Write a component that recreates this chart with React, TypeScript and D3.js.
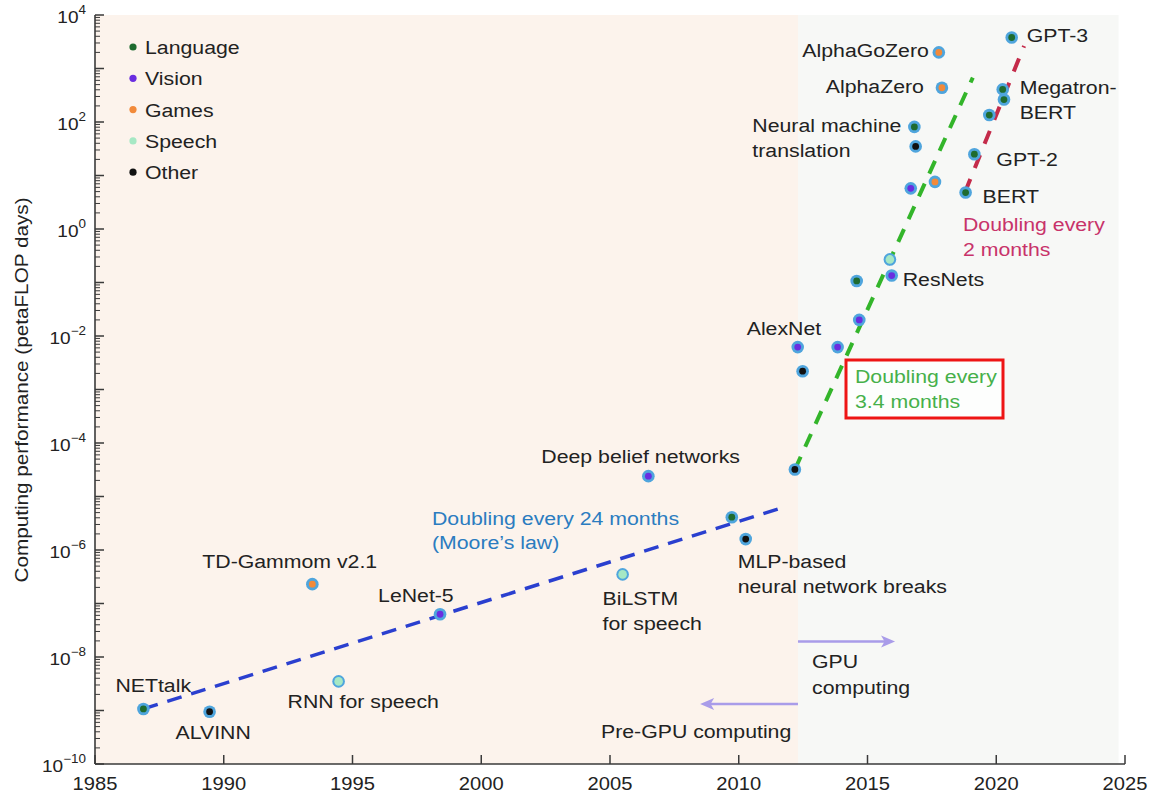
import React from "react";
import * as d3 from "d3";

// ---------- data ----------
const categories = ["Language", "Vision", "Games", "Speech", "Other"];
const categoryColors = ["#1e6b2f", "#6a2de0", "#f28a3a", "#a6e8c4", "#111111"];

const pointYears = [
  1986.88, 1989.45, 1993.44, 1994.46, 1998.4, 2005.49, 2006.49, 2009.73, 2010.27,
  2012.18, 2012.29, 2012.48, 2013.84, 2014.68, 2014.58, 2015.87, 2015.94, 2016.68,
  2017.62, 2016.82, 2016.87, 2017.77, 2017.89, 2018.81, 2019.15, 2019.73, 2020.25,
  2020.3, 2020.6,
];
const pointValues = [
  1.07e-9, 9.5e-10, 2.3e-7, 3.5e-9, 6.3e-8, 3.5e-7, 2.4e-5, 4.1e-6, 1.6e-6,
  3.2e-5, 6.2e-3, 2.2e-3, 6.2e-3, 0.02, 0.107, 0.27, 0.135, 5.75,
  7.6, 81, 35, 2000, 437, 4.8, 25, 135, 407,
  263, 3800,
];
const pointCategories = [
  "Language", "Other", "Games", "Speech", "Vision", "Speech", "Vision", "Language", "Other",
  "Other", "Vision", "Other", "Vision", "Vision", "Language", "Speech", "Vision", "Vision",
  "Games", "Language", "Other", "Games", "Games", "Language", "Language", "Language", "Language",
  "Language", "Language",
];

// labels: index of point, text lines
const labelPointIndex = [0, 1, 3, 2, 4, 6, 5, 8, 10, 16, 19, 21, 22, 28, 26, 24, 23];
const labelTexts = [
  ["NETtalk"], ["ALVINN"], ["RNN for speech"], ["TD-Gammom v2.1"], ["LeNet-5"],
  ["Deep belief networks"], ["BiLSTM", "for speech"], ["MLP-based", "neural network breaks"],
  ["AlexNet"], ["ResNets"], ["Neural machine", "translation"], ["AlphaGoZero"], ["AlphaZero"],
  ["GPT-3"], ["Megatron-", "BERT"], ["GPT-2"], ["BERT"],
];

// trend lines [year, value]
const mooreLine = [[1986.88, 1.07e-9], [2011.56, 5.9e-6]];
const gpuLine = [[2012.18, 3.2e-5], [2019.09, 676]];
const recentLine = [[2018.79, 4.9], [2021.08, 2630]];

const xTickYears = [1985, 1990, 1995, 2000, 2005, 2010, 2015, 2020, 2025];
const yTickExponents = [4, 2, 0, -2, -4, -6, -8, -10];
const gpuStartYear = 2012.3;
const plotBgEndYear = 2024.75;
const gpuArrowEndYear = 2016.07;
const preGpuArrowEndYear = 2008.5;

// ---------- layout ----------
const W = 1151;
const H = 799;
const FONT = "'Liberation Sans', Arial, Helvetica, sans-serif";
const SX = 1.12;

const x = d3.scaleLinear().domain([1985, 2025]).range([95, 1125]);
const y = d3.scaleLog().domain([1e-10, 1e4]).range([764, 15]);
const color = d3.scaleOrdinal<string, string>().domain(categories).range(categoryColors);

// label offsets (layout, px) relative to point
const labelLayout: { dx: number; dy: number; anchor?: string }[] = [
  { dx: -28, dy: -17 },
  { dx: -34, dy: 27 },
  { dx: -51, dy: 27 },
  { dx: -110, dy: -16 },
  { dx: -62, dy: -12 },
  { dx: -107, dy: -13 },
  { dx: -20, dy: 31 },
  { dx: -8, dy: 29 },
  { dx: -51, dy: -12 },
  { dx: 11, dy: 10 },
  { dx: -162, dy: 5 },
  { dx: -10, dy: 5, anchor: "end" },
  { dx: -18, dy: 5, anchor: "end" },
  { dx: 15, dy: 5 },
  { dx: 17, dy: 5 },
  { dx: 22, dy: 12 },
  { dx: 17, dy: 10 },
];

function T({
  x: tx, y: ty, children, size = 19, fill = "#222", anchor = "start", rotate = 0,
}: any) {
  return (
    <text
      transform={`translate(${tx},${ty}) rotate(${rotate}) scale(${SX},1)`}
      fontSize={size}
      fill={fill}
      textAnchor={anchor}
      fontFamily={FONT}
    >
      {children}
    </text>
  );
}

function Arrow({ x1, x2, yy, col }: any) {
  const dir = Math.sign(x2 - x1);
  const hl = 14;
  const hw = 6;
  return (
    <g>
      <line x1={x1} x2={x2 - dir * hl * 0.6} y1={yy} y2={yy} stroke={col} strokeWidth={2.5} />
      <polygon
        points={`${x2},${yy} ${x2 - dir * hl},${yy - hw} ${x2 - dir * hl * 0.75},${yy} ${x2 - dir * hl},${yy + hw}`}
        fill={col}
      />
    </g>
  );
}

export default function App() {
  const line = d3
    .line<number[]>()
    .x((d) => x(d[0]))
    .y((d) => y(d[1]));

  const y0 = y(1e-10);
  const yTop = y(1e4);

  const minorTicks: number[] = [];
  for (let e = -10; e < 4; e++) {
    for (let k = 2; k <= 9; k++) minorTicks.push(k * Math.pow(10, e));
  }
  const majorTicks: number[] = [];
  for (let e = -10; e <= 4; e++) majorTicks.push(Math.pow(10, e));

  const axisCol = "#3a3a3a";

  return (
    <svg
      width={W}
      height={H}
      style={{ position: "absolute", left: 0, top: 0, background: "#fff" }}
      fontFamily={FONT}
    >
      {/* backgrounds */}
      <rect x={x(1985)} y={yTop} width={x(gpuStartYear) - x(1985)} height={y0 - yTop} fill="#fcf3ec" />
      <rect x={x(gpuStartYear)} y={yTop} width={x(plotBgEndYear) - x(gpuStartYear)} height={y0 - yTop} fill="#f7f8f6" />

      {/* trend lines */}
      <path d={line(mooreLine as any) || ""} stroke="#2a3fcf" strokeWidth={3.5} strokeDasharray="15 10" fill="none" />
      <path d={line(gpuLine as any) || ""} stroke="#33b52a" strokeWidth={4} strokeDasharray="14 11" fill="none" />
      <path d={line(recentLine as any) || ""} stroke="#c42b4a" strokeWidth={4} strokeDasharray="14 12" fill="none" />

      {/* points */}
      {pointYears.map((yr, i) => {
        const cat = pointCategories[i];
        return (
          <g key={i}>
            <circle cx={x(yr)} cy={y(pointValues[i])} r={6.3} fill="#4fa5dd" />
            <circle cx={x(yr)} cy={y(pointValues[i])} r={cat === "Speech" ? 4.3 : 3.4} fill={color(cat)} />
          </g>
        );
      })}

      {/* point labels */}
      {labelPointIndex.map((pi, j) => {
        const L = labelLayout[j];
        const px = x(pointYears[pi]);
        const py = y(pointValues[pi]);
        return (
          <g key={"l" + j}>
            {labelTexts[j].map((t, k) => (
              <T key={k} x={px + L.dx} y={py + L.dy + k * 25} anchor={L.anchor || "start"}>
                {t}
              </T>
            ))}
          </g>
        );
      })}

      {/* annotations */}
      <T x={432} y={525} fill="#2b7cc0">Doubling every 24 months</T>
      <T x={432} y={549} fill="#2b7cc0">(Moore’s law)</T>

      <rect x={846} y={360} width={157} height={58} fill="#fdfefd" stroke="#ee1515" strokeWidth={3} />
      <T x={855} y={383} fill="#46b04a">Doubling every</T>
      <T x={855} y={408} fill="#46b04a">3.4 months</T>

      <T x={963} y={231} fill="#c8336a">Doubling every</T>
      <T x={963} y={256} fill="#c8336a">2 months</T>

      <Arrow x1={x(gpuStartYear)} x2={x(gpuArrowEndYear)} yy={y(1.94e-8)} col="#a99ce9" />
      <Arrow x1={x(gpuStartYear)} x2={x(preGpuArrowEndYear)} yy={y(1.32e-9)} col="#a99ce9" />
      <T x={812} y={668}>GPU</T>
      <T x={812} y={694}>computing</T>
      <T x={601} y={738}>Pre-GPU computing</T>

      {/* legend */}
      {categories.map((c, i) => (
        <g key={c}>
          <circle cx={133} cy={47 + i * 31.3} r={3.6} fill={color(c)} />
          <T x={145} y={54 + i * 31.3}>{c}</T>
        </g>
      ))}

      {/* axes */}
      <line x1={x(1985)} x2={x(1985)} y1={yTop} y2={y0} stroke={axisCol} strokeWidth={1.6} />
      <line x1={x(1985)} x2={x(2025)} y1={y0} y2={y0} stroke={axisCol} strokeWidth={1.6} />
      {minorTicks.map((v, i) => (
        <line key={"mn" + i} x1={x(1985)} x2={x(1985) + 5} y1={y(v)} y2={y(v)} stroke={axisCol} strokeWidth={1} />
      ))}
      {majorTicks.map((v, i) => (
        <line key={"mj" + i} x1={x(1985)} x2={x(1985) + 9} y1={y(v)} y2={y(v)} stroke={axisCol} strokeWidth={1.5} />
      ))}
      {xTickYears.map((yr) => (
        <g key={"xt" + yr}>
          <line x1={x(yr)} x2={x(yr)} y1={y0} y2={y0 - 9} stroke={axisCol} strokeWidth={1.5} />
          <T x={x(yr)} y={790} anchor="middle" size={18}>{String(yr)}</T>
        </g>
      ))}
      {yTickExponents.map((e) => (
        <text
          key={"yt" + e}
          transform={`translate(86,${y(Math.pow(10, e)) + 8}) scale(${SX},1)`}
          textAnchor="end"
          fontSize={17}
          fill="#222"
          fontFamily={FONT}
        >
          10
          <tspan dy={-9} fontSize={12}>{e < 0 ? "−" + Math.abs(e) : String(e)}</tspan>
        </text>
      ))}
      <T x={28} y={390} rotate={-90} anchor="middle" size={18.5}>
        Computing performance (petaFLOP days)
      </T>
    </svg>
  );
}
